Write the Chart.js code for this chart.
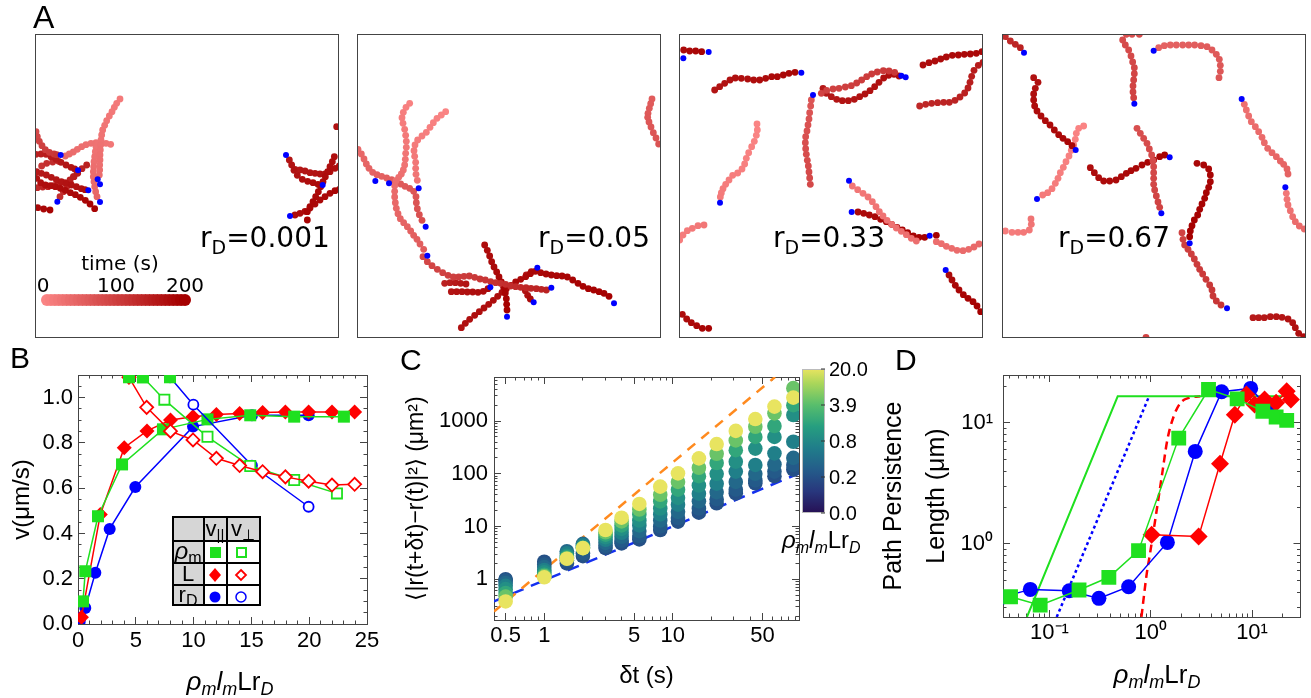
<!DOCTYPE html>
<html><head><meta charset="utf-8">
<script src="https://cdn.jsdelivr.net/npm/chart.js@4.4.1/dist/chart.umd.min.js"></script>
<style>
html,body{margin:0;padding:0;background:#fff;}
body{width:1311px;height:698px;position:relative;overflow:hidden;}
canvas{position:absolute;left:0;top:0;}
</style></head><body>
<canvas id="cA1" width="1311" height="698"></canvas>
<canvas id="cA2" width="1311" height="698"></canvas>
<canvas id="cA3" width="1311" height="698"></canvas>
<canvas id="cA4" width="1311" height="698"></canvas>
<canvas id="cB" width="1311" height="698"></canvas>
<canvas id="cC" width="1311" height="698"></canvas>
<canvas id="cD" width="1311" height="698"></canvas>
<script>
// ================= DATA =================
// Panel A: filament trajectories (frame coordinates, 912 units per frame side), t = [start,end] time (s)
const trajs1 = [
 {t:[15,35], p:[[360,297],[350,310],[343,322],[336,335],[328,348],[320,362],[314,376],[308,390],[305,405],[303,420],[302,435],[301,450],[300,465],[300,480],[299,495],[299,510],[298,525]]},
 {t:[20,40], p:[[332,433],[318,430],[303,428],[288,428],[273,430],[258,434],[245,440],[232,448],[220,456],[208,462],[196,468]]},
 {t:[25,45], p:[[288,440],[286,455],[284,470],[282,485],[281,500],[280,515],[280,530],[282,545],[284,560],[287,575],[291,590]]},
 {t:[90,120], p:[[108,395],[112,410],[118,424],[126,437],[136,449],[148,457],[162,462],[170,464]]},
 {t:[150,175], p:[[108,463],[123,462],[138,463],[153,470],[168,478],[183,487],[198,495],[213,502],[224,507]]},
 {t:[160,180], p:[[110,515],[124,520],[139,525],[154,532],[169,539],[184,545],[199,550],[214,555],[229,560],[244,566],[255,569]]},
 {t:[175,195], p:[[110,535],[122,548],[136,555],[151,557],[166,560],[181,565],[196,571],[211,578],[226,584],[241,592],[256,601],[270,612],[284,626]]},
 {t:[185,195], p:[[113,623],[131,627],[150,630]]},
 {t:[140,160], p:[[112,563],[128,561],[144,560],[160,557],[178,553],[195,548],[210,540],[222,530],[233,520]]},
 {t:[130,150], p:[[180,590],[190,575],[200,560],[210,545],[220,530],[232,518],[246,506],[260,495]]},
 {t:[120,140], p:[[125,498],[140,490],[158,486],[176,484]]},
 {t:[170,185], p:[[868,480],[875,495],[882,511],[892,526],[907,538],[923,544],[939,548],[954,553]]},
 {t:[175,195], p:[[1010,380],[1003,470],[997,485],[990,500],[983,515],[976,530],[969,545],[962,560],[955,575],[947,590],[939,605],[930,620],[922,635],[922,660]]},
 {t:[165,180], p:[[885,508],[900,510],[915,513],[930,518],[945,520],[960,522],[975,522],[990,515],[1005,505],[1018,498]]},
 {t:[180,195], p:[[885,645],[900,640],[915,634],[930,624],[945,612],[960,600],[975,590],[990,580],[1005,572],[1018,568]]}
];
const heads1 = [[182,465],[234,511],[265,571],[293,538],[300,553],[300,606],[172,605],[858,465],[968,555],[870,648]];

const trajs2 = [
 {t:[5,60], p:[[195,310],[184,322],[176,337],[172,353],[175,370],[180,388],[183,406],[185,424],[185,442],[183,460],[182,478],[180,495],[176,510],[170,522],[162,532],[154,542],[150,557],[150,574],[150,591],[152,608],[155,625],[160,641],[167,656],[177,668],[188,680],[198,693],[207,706],[217,718],[226,732],[237,748]]},
 {t:[0,25], p:[[303,335],[290,345],[277,355],[266,368],[256,382],[245,397],[232,408],[219,420],[211,435],[208,452],[210,469],[213,487],[213,505],[214,523],[218,541]]},
 {t:[40,80], p:[[40,448],[50,462],[58,477],[65,492],[73,505],[84,517],[97,524],[111,529],[126,534],[141,539],[155,545],[168,552],[181,559],[195,565],[207,574],[214,590],[215,608],[218,626],[224,644],[232,661]]},
 {t:[90,150], p:[[235,770],[248,785],[262,797],[278,808],[294,818],[310,826],[326,831],[342,831],[358,829],[374,828],[390,832],[406,837],[422,840],[438,845],[453,848],[468,850],[483,853],[498,858],[513,860],[528,862],[544,863],[559,865],[575,866],[590,868],[605,870]]},
 {t:[150,170], p:[[300,850],[316,848],[332,848],[348,850],[364,852]]},
 {t:[170,185], p:[[320,875],[336,875],[352,875],[368,876],[384,876],[400,877],[416,874],[430,866]]},
 {t:[180,200], p:[[420,735],[428,751],[435,768],[441,785],[448,801],[456,816],[463,831],[470,846],[477,862],[482,879],[485,896],[486,913],[487,930]]},
 {t:[175,200], p:[[350,983],[362,970],[375,958],[390,946],[404,935],[418,924],[432,913],[446,901],[459,889],[472,877],[485,866],[499,856],[513,846],[528,838],[543,830],[557,821],[572,814],[588,818],[604,822],[620,825],[636,827],[652,828],[668,831],[684,840],[700,850],[715,859],[731,866],[747,870],[763,875],[778,880],[793,889]]},
 {t:[170,185], p:[[542,872],[549,886],[557,897]]},
 {t:[165,180], p:[[545,825],[560,815]]},
 {t:[60,75], p:[[922,297],[918,311],[914,325],[910,340],[909,352],[913,366],[919,381],[926,398],[934,414],[942,432]]}
];
const heads2 = [[92,543],[133,550],[222,565],[243,680],[248,767],[437,862],[487,950],[567,907],[578,803],[620,863],[808,910]];

const trajs3 = [
 {t:[185,195], p:[[42,150],[60,153],[78,153],[96,155]]},
 {t:[170,190], p:[[135,270],[150,260],[165,250],[181,240],[197,234],[215,235],[234,237],[252,240],[270,240],[288,235],[306,230],[323,230],[341,225],[358,220],[376,217]]},
 {t:[0,15], p:[[262,372],[263,390],[260,406],[254,424],[246,440],[237,458],[230,475],[225,492],[217,507],[204,519],[189,526],[178,540],[168,553],[160,566],[155,579],[152,591]]},
 {t:[70,90], p:[[425,300],[423,318],[420,338],[418,357],[415,375],[412,393],[408,410],[407,428],[408,446],[410,463],[413,481],[416,498],[418,516],[420,534],[422,553]]},
 {t:[100,115], p:[[455,280],[471,271],[490,267],[508,265],[527,261],[545,257],[561,249],[576,240],[591,230],[606,222],[623,216],[641,212],[658,213],[675,217]]},
 {t:[165,180], p:[[460,265],[470,280],[485,290],[501,298],[518,302],[536,302],[554,298],[570,290],[586,282],[601,272],[615,260],[628,247],[642,234],[657,226],[673,223],[688,228]]},
 {t:[180,190], p:[[760,195],[778,188],[796,183],[813,177],[830,171],[848,166],[866,165],[884,163],[902,162],[920,160],[937,155]]},
 {t:[140,160], p:[[750,318],[768,313],[786,310],[804,308],[822,307],[839,307],[856,301],[871,291],[885,279],[895,264],[901,247],[906,229],[913,211],[926,196],[940,187]]},
 {t:[10,20], p:[[30,720],[40,705],[53,692],[68,685],[85,677],[103,675]]},
 {t:[20,40], p:[[548,558],[564,569],[580,580],[595,591],[608,605],[619,620],[629,635],[640,648],[652,661],[666,673],[680,684],[695,694],[710,704],[725,715],[740,723],[800,725],[815,731],[830,739],[846,745],[862,751],[880,752],[897,748],[913,741],[928,732]]},
 {t:[185,200], p:[[565,636],[582,640],[599,645],[616,650],[633,658],[650,665],[666,673],[682,682],[698,690],[714,698],[731,708],[748,712],[765,712],[800,706]]},
 {t:[185,200], p:[[838,825],[847,840],[857,856],[868,870],[881,884],[895,895],[910,905],[922,918],[933,935]]},
 {t:[180,195], p:[[38,943],[51,957],[65,968],[81,977],[98,985],[117,985]]}
];
const heads3 = [[41,175],[117,156],[395,218],[430,285],[695,227],[708,232],[151,608],[538,542],[546,636],[780,707],[828,810]];

const trajs4 = [
 {t:[130,150], p:[[45,110],[60,123],[75,133],[90,143]]},
 {t:[80,100], p:[[408,103],[425,103],[447,103],[397,120],[405,135],[415,150],[422,168],[427,186],[432,203],[432,221],[430,240],[428,258],[428,276],[430,293]]},
 {t:[50,70], p:[[505,143],[522,137],[540,135],[558,135],[577,135],[595,135],[613,135],[632,137],[650,140],[665,150],[678,163],[687,178],[690,196],[690,214],[686,233]]},
 {t:[175,190], p:[[130,233],[143,247],[135,265],[130,282],[130,300],[133,318],[140,333],[152,348],[165,362],[179,375],[192,390],[205,404],[218,415],[232,425],[245,437]]},
 {t:[0,15], p:[[280,378],[265,385],[258,400],[255,418],[250,435],[243,451],[236,468],[227,485],[219,502],[210,518],[203,535],[195,550],[185,566],[172,578],[157,585]]},
 {t:[80,100], p:[[440,385],[450,400],[460,415],[470,430],[477,447],[484,465],[488,482],[490,500],[490,518],[490,535],[490,553],[493,570],[498,588],[503,606],[508,622]]},
 {t:[180,195], p:[[300,503],[312,518],[325,533],[340,543],[358,543],[377,540],[393,530],[408,520],[422,512],[437,505],[455,495],[472,487],[490,480],[508,470],[523,465]]},
 {t:[190,200], p:[[620,490],[640,495],[655,507],[660,525],[660,545],[655,562],[648,578],[643,595],[635,612],[628,628],[622,645],[612,660],[605,677],[600,693],[598,710]]},
 {t:[100,120], p:[[575,698],[578,718],[583,735],[593,748],[603,762],[612,777],[620,793],[628,808],[637,822],[647,838],[658,855],[665,870],[668,888],[678,903],[692,915]]},
 {t:[30,50], p:[[762,313],[768,330],[775,348],[783,365],[795,380],[805,395],[815,412],[822,428],[832,445],[845,458],[858,470],[870,483],[880,493],[890,507],[893,522]]},
 {t:[20,40], p:[[888,580],[890,598],[893,615],[900,632],[907,650],[915,665],[927,678],[942,687]]},
 {t:[10,25], p:[[45,693],[65,697],[83,697],[100,697],[117,690],[123,673],[122,657]]},
 {t:[160,180], p:[[788,953],[805,953],[822,953],[840,950],[858,950],[875,952],[893,957],[907,968],[915,983],[925,1000],[940,1010]]},
 {t:[100,100], p:[[467,1012]]}
];
const heads4 = [[101,158],[432,311],[490,152],[256,450],[140,597],[513,640],[538,472],[598,730],[710,925],[754,297],[885,562]];

const frameLabels = ['0.001','0.05','0.33','0.67'];
const timeTicks = [0,100,200];

// Panel B: v vs rho_m l_m L r_D
const bGreenFill = [[0.43,0.10],[0.63,0.233],[1.73,0.476],[3.81,0.705],[7.35,0.86],[11.2,0.904],[14.9,0.922],[18.7,0.916],[23.0,0.916]];
const bGreenOpen = [[5.62,1.09],[7.47,0.991],[11.2,0.827],[14.9,0.698],[18.7,0.636],[22.4,0.577]];
const bRedFill   = [[0.3,0.03],[1.93,0.484],[4.0,0.779],[5.97,0.853],[8.0,0.901],[9.95,0.916],[11.97,0.926],[13.98,0.93],[15.97,0.934],[17.94,0.937],[19.95,0.937],[21.97,0.937],[23.93,0.937]];
const bRedOpen   = [[4.41,1.09],[5.94,0.957],[8.0,0.852],[9.95,0.813],[11.97,0.732],[13.98,0.70],[15.97,0.673],[17.94,0.650],[19.95,0.631],[21.97,0.614],[23.93,0.617]];
const bBlueFill  = [[0.14,0.01],[0.2,0.027],[0.63,0.071],[1.5,0.226],[2.74,0.42],[4.96,0.605],[9.95,0.872],[15.05,0.922],[19.95,0.922]];
const bBlueOpen  = [[7.96,1.09],[9.98,0.969],[15.05,0.70],[19.95,0.518]];
const bXTicks = [0,5,10,15,20,25];
const bYTicks = [0,0.2,0.4,0.6,0.8,1.0];

// Panel C: MSD vs delta t, colour = rho_m l_m L r_D
const cDt = [0.5,1,1.5,2,3,4,5.5,8,11,16,22,31,44,62,87];
const cRho = [0.2,0.3,0.45,0.7,1.2,2.5,6,20];
const cMsd = [
 [1.0,0.95,0.85,0.75,0.65,0.55,0.47,0.38],
 [2.15,1.9,1.7,1.5,1.35,1.22,1.15,1.09],
 [2.0,2.3,3.4,3.1,2.8,2.6,2.5,2.45],
 [2.75,3.1,4.7,4.4,4.1,3.95,3.9,3.9],
 [3.9,4.3,4.9,5.6,6.3,7.0,7.8,8.6],
 [4.8,5.4,6.4,7.6,9.0,10.5,12.5,14.7],
 [5.7,6.6,8.2,10.5,13,17,21,26.8],
 [8.6,10,13,17,22,30,40,57],
 [12.4,14.5,19,26,35,50,70,102],
 [18.3,22,30,42,60,90,130,196],
 [27.6,33,45,65,100,160,240,366],
 [42.6,50,70,110,170,280,430,650],
 [66,75,100,147,300,500,780,1090],
 [90,110,150,244,500,806,1400,1880],
 [120,147,200,405,1300,2000,4200,2780]
];
const cBallistic = [[0.406,0.245],[62.7,6840]];
const cDiffusive = [[0.406,0.38],[96.3,102]];
const cXLabels = [0.5,1,5,10,50];
const cYLabels = [1,10,100,1000];
const cBarTicks = [0.0,0.2,0.8,3.9,20.0];

// Panel D: path persistence length
const dGreen = [[0.0413,0.366],[0.081,0.312],[0.196,0.416],[0.386,0.53],[0.758,0.88],[1.89,7.5],[3.72,18.9],[7.13,15.8],[12.8,12.5],[17.3,11.2],[22,10.5]];
const dBlue  = [[0.0335,0.361],[0.0647,0.421],[0.157,0.41],[0.308,0.355],[0.605,0.443],[1.46,1.03],[2.75,5.82],[5.01,18.1],[9.7,19.3],[14.5,13.2]];
const dRed   = [[1.02,1.19],[2.97,1.15],[4.83,4.6],[6.76,11.7],[8.8,17.2],[10.6,14.2],[13.3,15.6],[17.3,14.7],[22,18.3],[24.2,15.6]];
const dGreenTheory = [[0.060,0.249],[0.472,16.6],[22,16.6]];
const dBlueTheory  = [[0.118,0.249],[0.963,16.6]];
const dRedTheory   = [[0.81,0.25],[0.914,0.571],[0.985,0.837],[1.16,2.04],[1.30,3.85],[1.46,7.27],[1.69,11.4],[1.96,14.6],[2.37,16.1],[3.08,16.6]];
const dXLabels = [0.1,1,10];
const dXLabelText = ['10\u207B\u00B9','10\u2070','10\u00B9'];
const dYLabels = [1,10];
const dYLabelText = ['10\u2070','10\u00B9'];

// ================= HELPERS =================
const FM = '"Liberation Sans", Arial, Helvetica, sans-serif';
const FP = '"DejaVu Sans", sans-serif';
const GREEN = '#1fe01f', RED = '#ff0000', BLUE = '#0000ff';

function timeColor(t){
  const f = Math.max(0, Math.min(1, t/200));
  const a=[250,132,132], b=[165,0,0];
  return 'rgb('+a.map((v,i)=>Math.round(v+(b[i]-v)*f)).join(',')+')';
}
const vStops = [[0,[38,16,84]],[0.15,[40,55,125]],[0.3,[36,92,138]],[0.45,[32,125,138]],[0.6,[38,158,128]],[0.75,[88,190,108]],[0.9,[170,214,90]],[1,[232,228,96]]];
function vir(p){
  p = Math.max(0, Math.min(1, p));
  for (let i=1;i<vStops.length;i++){
    if (p <= vStops[i][0]){
      const [p0,c0]=vStops[i-1],[p1,c1]=vStops[i]; const f=(p-p0)/(p1-p0);
      return 'rgb('+c0.map((v,k)=>Math.round(v+(c1[k]-v)*f)).join(',')+')';
    }
  }
  return 'rgb(232,228,96)';
}
function rhoPos(r){
  for (let i=1;i<cBarTicks.length;i++){
    if (r <= cBarTicks[i]) return (i-1 + (r-cBarTicks[i-1])/(cBarTicks[i]-cBarTicks[i-1]))/(cBarTicks.length-1);
  }
  return 1;
}
function rich(ctx, x, y, segs, align, fam){
  let w = 0;
  segs.forEach(s=>{ ctx.font=(s[3]?'italic ':'')+s[1]+'px '+fam; w+=ctx.measureText(s[0]).width; });
  let cx = align==='center' ? x-w/2 : (align==='right' ? x-w : x);
  ctx.textAlign='left'; ctx.textBaseline='alphabetic'; ctx.fillStyle='#000';
  segs.forEach(s=>{ ctx.font=(s[3]?'italic ':'')+s[1]+'px '+fam; ctx.fillText(s[0], cx, y+s[2]); cx+=ctx.measureText(s[0]).width; });
}
function rhoTitle(sz, sub){
  return [['\u03C1',sz,0,true],['m',sub,5,true],['l',sz,0,true],['m',sub,5,true],['L',sz,0,false],['r',sz,0,false],['D',sub,5,true]];
}
function minorsLog(lo, hi, majors){
  const out=[];
  for (let e=-3;e<=4;e++) for (let m=1;m<10;m++){
    const v = +(m*Math.pow(10,e)).toPrecision(6);
    if (v>=lo && v<=hi && !majors.some(M=>Math.abs(M-v)<1e-9)) out.push(v);
  }
  return out;
}
function minorsLin(lo, hi, step, majors){
  const out=[];
  for (let v=lo; v<=hi+1e-9; v+=step){ const r=+v.toFixed(6); if(!majors.some(M=>Math.abs(M-r)<1e-9)) out.push(r); }
  return out;
}
function markScales(axis, type, min, max, majors, minors){
  const res = {};
  const pos = axis==='x' ? ['bottom','top'] : ['left','right'];
  pos.forEach((p,i)=>{
    [['M',majors,7],['m',minors,3.5]].forEach(([k,vals,len])=>{
      res[axis+k+i] = {
        type, min, max, position:p, axis, weight:-1, display:true,
        afterFit: s=>{ if(axis==='x') s.height=0; else s.width=0; },
        afterBuildTicks: s=>{ s.ticks = vals.map(v=>({value:v})); },
        ticks:{display:false},
        grid:{display:true, drawOnChartArea:false, drawTicks:true, tickLength:-len, color:'#444', tickColor:'#444', lineWidth:1, tickWidth:1},
        border:{display:k==='M', color:'#444', width:1}
      };
    });
  });
  return res;
}
function labelScale(axis, type, min, max, vals, texts, size, pad, title){
  return {
    type, min, max, position: axis==='x'?'bottom':'left', axis, weight:0,
    afterFit: s=>{ if(axis==='x') s.height=size; else s.width=size; },
    afterBuildTicks: s=>{ s.ticks = vals.map(v=>({value:v})); },
    ticks:{display:true, autoSkip:false, maxRotation:0, minRotation:0, padding:pad, color:'#000',
           font:{family:FM, size:22}, callback:(v,i)=>texts[i]},
    grid:{display:false, drawTicks:false, tickLength:0},
    border:{display:false},
    title: title || {display:false}
  };
}
const baseOpts = (pad)=>({
  responsive:false, animation:false, events:[],
  layout:{padding:pad},
  plugins:{legend:{display:false}, tooltip:{enabled:false}}
});
function pts(arr){ return arr.map(([x,y])=>({x,y})); }

// ================= PANEL A =================
const frameXs = [35,357,679,1002];
const frameMins = [105,37,28,35];
const labelX = [200,538,773,1058];
const allTrajs = [trajs1,trajs2,trajs3,trajs4];
const allHeads = [heads1,heads2,heads3,heads4];

for (let f=0; f<4; f++){
  const ds = allTrajs[f].map(tr=>({
    data: pts(tr.p), showLine:false, xAxisID:'x', yAxisID:'y', order:1,
    pointRadius:3.4, pointBorderWidth:0,
    pointBackgroundColor: tr.p.map((_,i)=>timeColor(tr.p.length>1 ? tr.t[0]+(tr.t[1]-tr.t[0])*i/(tr.p.length-1) : tr.t[0]))
  }));
  ds.push({data: pts(allHeads[f]), showLine:false, xAxisID:'x', yAxisID:'y', order:0,
    pointRadius:3, pointBorderWidth:0, pointBackgroundColor:BLUE});
  const px = frameXs[f];
  const opts = baseOpts({left:px, top:34, right:1311-px-304, bottom:698-34-304});
  opts.scales = {
    x:{type:'linear', display:false, min:frameMins[f], max:frameMins[f]+912},
    y:{type:'linear', display:false, min:102, max:1014, reverse:true}
  };
  const fi = f;
  new Chart(document.getElementById('cA'+(f+1)), {
    type:'scatter', data:{datasets:ds}, options:opts,
    plugins:[{id:'frameA', afterDraw(chart){
      const ctx=chart.ctx, a=chart.chartArea;
      ctx.save();
      ctx.strokeStyle='#444'; ctx.lineWidth=1;
      ctx.strokeRect(Math.round(a.left)+0.5, Math.round(a.top)+0.5, Math.round(a.right-a.left)-1, Math.round(a.bottom-a.top)-1);
      rich(ctx, labelX[fi], 247, [['r',28,0,false],['D',19,7,false],['='+frameLabels[fi],28,0,false]], 'left', FP);
      if (fi===0){
        rich(ctx, 33, 28, [['A',32,0,false]], 'left', FM);
        // time colour bar (legend)
        const n=36, x0=47, x1=185;
        for (let i=0;i<n;i++){
          const t = 200*i/(n-1);
          ctx.beginPath(); ctx.fillStyle=timeColor(t);
          ctx.arc(x0+(x1-x0)*i/(n-1), 300, 6, 0, Math.PI*2); ctx.fill();
        }
        ctx.fillStyle='#000'; ctx.font='20px '+FP; ctx.textAlign='center'; ctx.textBaseline='middle';
        ctx.fillText('time (s)', 120, 265);
        timeTicks.forEach(v=>ctx.fillText(String(v), x0+(x1-x0)*v/200 - (v===0?4:0), 287));
      }
      ctx.restore();
    }}]
  });
}

// ================= PANEL B =================
(function(){
  const ser = (data,color,style,r,filled)=>({
    data:pts(data), showLine:true, xAxisID:'x', yAxisID:'y', borderColor:color, borderWidth:1.5,
    pointStyle:style, pointRadius:r, pointBackgroundColor: filled?color:'#fff',
    pointBorderColor:color, pointBorderWidth: filled?0:1.8, fill:false, tension:0, order:2
  });
  const topClip = [bRedOpen[0], bGreenOpen[0], bBlueOpen[0]];
  const ds = [
    ser(bRedOpen, RED, 'rectRot', 6.5, false),
    ser(bGreenOpen, GREEN, 'rect', 7.2, false),
    ser(bBlueOpen, BLUE, 'circle', 5, false),
    ser(bGreenFill, GREEN, 'rect', 8.5, true),
    ser(bRedFill, RED, 'rectRot', 7.5, true),
    ser(bBlueFill, BLUE, 'circle', 6, true),
    {data:pts(topClip), showLine:false, xAxisID:'x', yAxisID:'y', pointStyle:'rect', pointRadius:8.5,
     pointBackgroundColor:GREEN, pointBorderWidth:0, order:1}
  ];
  const opts = baseOpts({left:0, top:375, right:1311-367, bottom:0});
  const xMaj = bXTicks, yMaj = bYTicks;
  opts.scales = Object.assign({
    x: labelScale('x','linear',0,25,bXTicks,bXTicks.map(String),74,4),
    y: labelScale('y','linear',0,1.1,bYTicks,bYTicks.map(v=>v.toFixed(1)),78,5,
       {display:true, text:'v(\u03BCm/s)', color:'#000', font:{family:FM, size:24}, padding:{top:8,bottom:0}})
  }, markScales('x','linear',0,25,xMaj,minorsLin(0,25,1,xMaj)),
     markScales('y','linear',0,1.1,yMaj,minorsLin(0,1.1,0.05,yMaj)));
  new Chart(document.getElementById('cB'), {type:'scatter', data:{datasets:ds}, options:opts,
    plugins:[{id:'txtB', afterDraw(chart){
      const ctx=chart.ctx; ctx.save();
      rich(ctx, 10, 368, [['B',30,0,false]], 'left', FM);
      rich(ctx, 230, 690, rhoTitle(26,18), 'center', FM);
      // legend table
      const L=173, R=260, T=517, Bt=605, c1=204, c2=227, r1=541, r2=563, r3=585;
      ctx.fillStyle='#d6d6d6';
      ctx.fillRect(L,T,R-L,r1-T); ctx.fillRect(L,T,c1-L,Bt-T);
      ctx.fillStyle='#fff'; ctx.fillRect(c1,r1,R-c1,Bt-r1);
      ctx.strokeStyle='#000'; ctx.lineWidth=2;
      ctx.strokeRect(L,T,R-L,Bt-T);
      [c1,c2].forEach(x=>{ctx.beginPath();ctx.moveTo(x,T);ctx.lineTo(x,Bt);ctx.stroke();});
      [r1,r2,r3].forEach(y=>{ctx.beginPath();ctx.moveTo(L,y);ctx.lineTo(R,y);ctx.stroke();});
      rich(ctx, 215, 536, [['v',22,0,false],['||',15,4,false]], 'center', FM);
      rich(ctx, 243, 536, [['v',22,0,false],['\u22A5',15,4,false]], 'center', FM);
      rich(ctx, 188, 559, [['\u03C1',24,0,true],['m',16,4,false]], 'center', FM);
      rich(ctx, 188, 581, [['L',22,0,false]], 'center', FM);
      rich(ctx, 188, 602, [['r',22,0,false],['D',16,4,false]], 'center', FM);
      // markers
      ctx.fillStyle=GREEN; ctx.fillRect(210,547,11,11);
      ctx.strokeStyle=GREEN; ctx.lineWidth=2; ctx.strokeRect(237,548,9,9);
      ctx.fillStyle=RED; ctx.beginPath(); ctx.moveTo(215,568);ctx.lineTo(221,575);ctx.lineTo(215,582);ctx.lineTo(209,575);ctx.closePath();ctx.fill();
      ctx.strokeStyle=RED; ctx.lineWidth=1.8; ctx.beginPath(); ctx.moveTo(241,570);ctx.lineTo(246,575);ctx.lineTo(241,580);ctx.lineTo(236,575);ctx.closePath();ctx.stroke();
      ctx.fillStyle=BLUE; ctx.beginPath(); ctx.arc(215,597,5.5,0,Math.PI*2); ctx.fill();
      ctx.strokeStyle=BLUE; ctx.lineWidth=1.5; ctx.beginPath(); ctx.arc(241,597,5,0,Math.PI*2); ctx.stroke();
      ctx.restore();
    }}]
  });
})();

// ================= PANEL C =================
(function(){
  const cPts = [], cCols = [];
  cDt.forEach((dt,i)=>cRho.forEach((r,j)=>{ cPts.push({x:dt, y:cMsd[i][j]}); cCols.push(vir(rhoPos(r))); }));
  const ds = [
    {data:pts(cBallistic), showLine:true, xAxisID:'x', yAxisID:'y', borderColor:'#ff8a1e', borderWidth:2.5, borderDash:[10,8], pointRadius:0, order:2},
    {data:pts(cDiffusive), showLine:true, xAxisID:'x', yAxisID:'y', borderColor:'#1430f0', borderWidth:2.5, borderDash:[12,8], pointRadius:0, order:2},
    {data:cPts, showLine:false, xAxisID:'x', yAxisID:'y', pointRadius:7.3, pointBorderWidth:0, pointBackgroundColor:cCols, order:1}
  ];
  const opts = baseOpts({left:400, top:377, right:1311-799, bottom:0});
  const xMaj=cXLabels, yMaj=cYLabels;
  opts.scales = Object.assign({
    x: labelScale('x','logarithmic',0.406,96.3,cXLabels,cXLabels.map(String),78,3,
       {display:true, text:'\u03B4t (s)', color:'#000', font:{family:FM, size:24}, padding:{top:0,bottom:7}}),
    y: labelScale('y','logarithmic',0.169,6840,cYLabels,cYLabels.map(String),94,6,
       {display:true, text:'\u27E8|r(t+\u03B4t)\u2212r(t)|\u00B2\u27E9 (\u03BCm\u00B2)', color:'#000', font:{family:FM, size:23}, padding:{top:3,bottom:0}})
  }, markScales('x','logarithmic',0.406,96.3,xMaj,minorsLog(0.406,96.3,xMaj)),
     markScales('y','logarithmic',0.169,6840,yMaj,minorsLog(0.169,6840,yMaj)));
  new Chart(document.getElementById('cC'), {type:'scatter', data:{datasets:ds}, options:opts,
    plugins:[{id:'txtC', afterDraw(chart){
      const ctx=chart.ctx; ctx.save();
      rich(ctx, 400, 370, [['C',30,0,false]], 'left', FM);
      // colour bar (legend)
      const x0=802, x1=825, y0=369, y1=513;
      const g = ctx.createLinearGradient(0,y1,0,y0);
      for (let i=0;i<=20;i++) g.addColorStop(i/20, vir(i/20));
      ctx.fillStyle=g; ctx.fillRect(x0,y0,x1-x0,y1-y0);
      ctx.strokeStyle='#bbb'; ctx.lineWidth=1; ctx.strokeRect(x0+0.5,y0+0.5,x1-x0-1,y1-y0-1);
      ctx.fillStyle='#000'; ctx.font='20px '+FM; ctx.textAlign='left'; ctx.textBaseline='middle';
      const labs = ['20.0','3.9','0.8','0.2','0.0'];
      labs.forEach((t,i)=>{ const y=y0+(y1-y0)*i/4; ctx.fillText(t, x1+4, y+1);
        ctx.beginPath(); ctx.strokeStyle='#333'; ctx.moveTo(x1-4,y); ctx.lineTo(x1,y); ctx.stroke(); });
      rich(ctx, 782, 548, rhoTitle(24,16), 'left', FM);
      ctx.restore();
    }}]
  });
})();

// ================= PANEL D =================
(function(){
  const ser = (data,color,style,r)=>({
    data:pts(data), showLine:true, xAxisID:'x', yAxisID:'y', borderColor:color, borderWidth:1.5,
    pointStyle:style, pointRadius:r, pointBackgroundColor:color, pointBorderWidth:0, fill:false, tension:0, order:1
  });
  const ds = [
    {data:pts(dGreenTheory), showLine:true, xAxisID:'x', yAxisID:'y', borderColor:GREEN, borderWidth:2, pointRadius:0, order:3},
    {data:pts(dBlueTheory), showLine:true, xAxisID:'x', yAxisID:'y', borderColor:BLUE, borderWidth:2.5, borderDash:[3,3], pointRadius:0, order:3},
    {data:pts(dRedTheory), showLine:true, xAxisID:'x', yAxisID:'y', borderColor:RED, borderWidth:2.5, borderDash:[8,5], pointRadius:0, cubicInterpolationMode:'monotone', order:3},
    ser(dGreen, GREEN, 'rect', 10.5),
    ser(dRed, RED, 'rectRot', 9),
    ser(dBlue, BLUE, 'circle', 7.5)
  ];
  const opts = baseOpts({left:860, top:375, right:1311-1304, bottom:0});
  const xMaj=dXLabels, yMaj=dYLabels;
  opts.scales = Object.assign({
    x: labelScale('x','logarithmic',0.0348,30.1,dXLabels,dXLabelText,81,3),
    y: labelScale('y','logarithmic',0.249,24.9,dYLabels,dYLabelText,143,10,
       {display:true, text:['Path Persistence','Length (\u03BCm)'], color:'#000', font:{family:FM, size:25, lineHeight:1.7}, padding:{top:13,bottom:0}})
  }, markScales('x','logarithmic',0.0348,30.1,xMaj,minorsLog(0.0348,30.1,xMaj)),
     markScales('y','logarithmic',0.249,24.9,yMaj,minorsLog(0.249,24.9,yMaj)));
  new Chart(document.getElementById('cD'), {type:'scatter', data:{datasets:ds}, options:opts,
    plugins:[{id:'txtD', afterDraw(chart){
      const ctx=chart.ctx; ctx.save();
      rich(ctx, 895, 370, [['D',30,0,false]], 'left', FM);
      rich(ctx, 1157, 683, rhoTitle(26,18), 'center', FM);
      ctx.restore();
    }}]
  });
})();
</script>
</body></html>
